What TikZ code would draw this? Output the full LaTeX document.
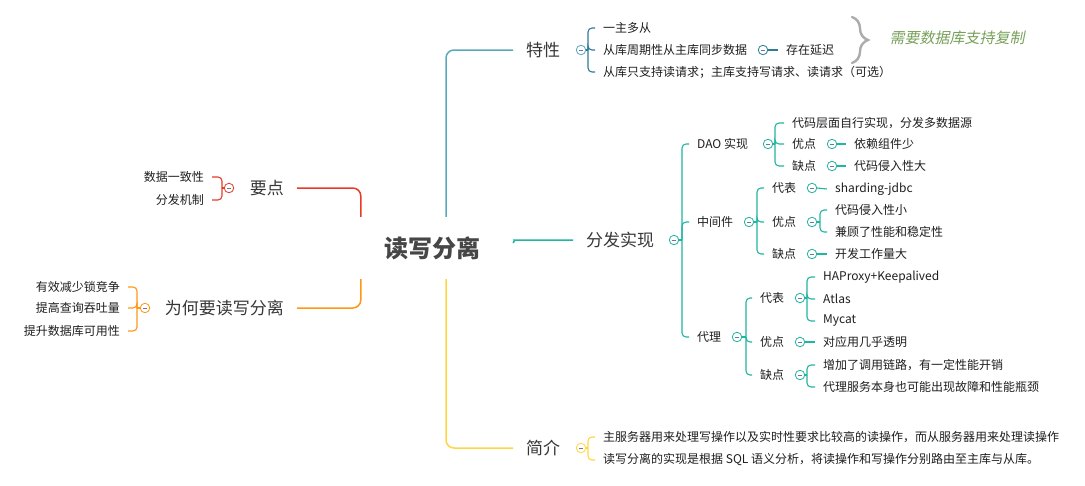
\documentclass[tikz,border=0pt]{standalone}
\usepackage{fontspec}
\setmainfont{Noto Sans CJK SC}
\newfontfamily\notefont[FakeSlant=0.2]{Noto Sans CJK SC}
\usepackage{tikz}
\usetikzlibrary{calc,decorations.pathreplacing}
\usepackage{xcolor}
\definecolor{rootc}{RGB}{70,70,70}
\definecolor{txt}{RGB}{30,30,30}
\definecolor{topc}{RGB}{55,55,55}
\definecolor{tezheng}{RGB}{90,168,190}
\definecolor{tezhengk}{RGB}{45,125,150}
\definecolor{fenfa}{RGB}{32,182,160}
\definecolor{jianjie}{RGB}{255,214,64}
\definecolor{yaodian}{RGB}{232,58,40}
\definecolor{weihe}{RGB}{255,150,20}
\definecolor{notec}{RGB}{118,160,88}
\definecolor{minus}{RGB}{110,120,150}

\begin{document}
\begin{tikzpicture}[x=1pt, y=-1pt,
  root/.style={font=\fontsize{24}{28}\selectfont\bfseries, text=rootc, minimum width=162pt, minimum height=62pt, inner sep=0pt},
  topic/.style={font=\fontsize{17}{20}\selectfont, text=topc, inner xsep=13pt, inner ysep=2pt},
  leaf/.style={font=\fontsize{12}{14}\selectfont, text=txt, anchor=west, inner xsep=8pt, inner ysep=1pt},
  leafl/.style={leaf, anchor=east},
  fold/.style={circle, draw=#1, fill=white, line width=0.8pt, minimum size=9.5pt, inner sep=0pt,
    path picture={\draw[minus, line width=0.6pt] ([xshift=-2.4pt]path picture bounding box.center) -- ([xshift=2.4pt]path picture bounding box.center);}},
  link/.style={draw=#1, line width=1.1pt, rounded corners=4pt},
  main/.style={draw=#1, line width=1.5pt, rounded corners=8pt},
  note/.style={font=\notefont\fontsize{15}{18}\selectfont, text=notec, anchor=west},
]
  \useasboundingbox (0,0) rectangle (1085,485);

  % centre
  \node[root] (root) at (432,248) {读写分离};

  % main topics
  \node[topic, anchor=west] (tx) at (513,50) {特性};
  \node[topic, anchor=west] (ff) at (573,240) {分发实现};
  \node[topic, anchor=west] (jj) at (513,448) {简介};
  \node[topic, anchor=east] (yd) at (297,188) {要点};
  \node[topic, anchor=east] (wh) at (297,308) {为何要读写分离};

  \draw[main=tezheng] ([xshift=14pt]root.north) |- (tx.west);
  \draw[main=jianjie] ([xshift=14pt]root.south) |- (jj.west);
  \draw[main=fenfa] ([yshift=5pt]root.east) .. controls ([yshift=8pt]root.east) and ([xshift=3pt,yshift=8pt]root.east) .. ([xshift=9pt,yshift=8pt]root.east) -- (ff.west);
  \draw[main=yaodian] ([xshift=10pt]root.north west) |- (yd.east);
  \draw[main=weihe] ([xshift=10pt]root.south west) |- (wh.east);

  % 特性
  \node[fold=tezheng] (tx0) at (581,50) {};
  \coordinate (txj) at (588,50);
  \node[leaf] (tx1) at (595,28) {一主多从};
  \node[leaf] (tx2) at (595,50) {从库周期性从主库同步数据};
  \node[leaf] (tx3) at (595,72) {从库只支持读请求；主库支持写请求、读请求（可选）};
  \node[fold=tezhengk] (tx20) at (763,50) {};
  \node[leaf] (tx21) at (778,50) {存在延迟};
  \draw[link=tezhengk] (tx0.east) -- (txj);
  \foreach \c in {tx1,tx2,tx3} \draw[link=tezhengk] (txj) |- (\c.west);
  \draw[link=tezhengk] (tx20.east) -- (tx21.west);

  \coordinate (bt) at (852,17);
  \coordinate (bb) at (852,63);
  \draw[decorate, decoration={brace, amplitude=16pt}, line width=2.4pt, gray!65, line cap=round] (bt) -- (bb);
  \node[note] (nt) at (886,38) {需要数据库支持复制};

  % 分发实现
  \node[fold=fenfa] (ff0) at (674,240) {};
  \coordinate (ffj) at (682,240);
  \node[leaf] (dao) at (689,144) {DAO 实现};
  \node[leaf] (mid) at (689,222) {中间件};
  \node[leaf] (prx) at (689,337) {代理};
  \draw[link=fenfa] (ff0.east) -- (ffj);
  \foreach \c in {dao,mid,prx} \draw[link=fenfa] (ffj) |- (\c.west);

  \node[fold=fenfa] (dao0) at (768,144) {};
  \coordinate (daoj) at (775,144);
  \node[leaf] (dao1) at (784,123) {代码层面自行实现，分发多数据源};
  \node[leaf] (dao2) at (784,144) {优点};
  \node[leaf] (dao3) at (784,166) {缺点};
  \draw[link=fenfa] (dao0.east) -- (daoj);
  \foreach \c in {dao1,dao2,dao3} \draw[link=fenfa] (daoj) |- (\c.west);
  \node[fold=fenfa] (dao20) at (832,144) {};
  \node[leaf] (dao21) at (846,144) {依赖组件少};
  \node[fold=fenfa] (dao30) at (832,166) {};
  \node[leaf] (dao31) at (846,166) {代码侵入性大};
  \draw[link=fenfa] (dao20.east) -- (dao21.west);
  \draw[link=fenfa] (dao30.east) -- (dao31.west);

  \node[fold=fenfa] (mid0) at (749,222) {};
  \coordinate (midj) at (757,222);
  \node[leaf] (mid1) at (764,188) {代表};
  \node[leaf] (mid2) at (764,222) {优点};
  \node[leaf] (mid3) at (764,254) {缺点};
  \draw[link=fenfa] (mid0.east) -- (midj);
  \foreach \c in {mid1,mid2,mid3} \draw[link=fenfa] (midj) |- (\c.west);
  \node[fold=fenfa] (mid10) at (812,188) {};
  \node[leaf] (mid11) at (827,189) {sharding-jdbc};
  \draw[link=fenfa] (mid10.east) -- (mid11.west);
  \node[fold=fenfa] (mid20) at (812,222) {};
  \coordinate (mid2j) at (820,222);
  \node[leaf] (mid21) at (827,210) {代码侵入性小};
  \node[leaf] (mid22) at (827,232) {兼顾了性能和稳定性};
  \draw[link=fenfa] (mid20.east) -- (mid2j);
  \foreach \c in {mid21,mid22} \draw[link=fenfa] (mid2j) |- (\c.west);
  \node[fold=fenfa] (mid30) at (812,254) {};
  \node[leaf] (mid31) at (827,254) {开发工作量大};
  \draw[link=fenfa] (mid30.east) -- (mid31.west);

  \node[fold=fenfa] (prx0) at (737,337) {};
  \coordinate (prxj) at (746,337);
  \node[leaf] (prx1) at (752,298) {代表};
  \node[leaf] (prx2) at (752,342) {优点};
  \node[leaf] (prx3) at (752,375) {缺点};
  \draw[link=fenfa] (prx0.east) -- (prxj);
  \foreach \c in {prx1,prx2,prx3} \draw[link=fenfa] (prxj) |- (\c.west);
  \node[fold=fenfa] (prx10) at (800,298) {};
  \coordinate (prx1j) at (807,298);
  \node[leaf] (prx11) at (815,277) {HAProxy+Keepalived};
  \node[leaf] (prx12) at (815,299) {Atlas};
  \node[leaf] (prx13) at (815,321) {Mycat};
  \draw[link=fenfa] (prx10.east) -- (prx1j);
  \foreach \c in {prx11,prx12,prx13} \draw[link=fenfa] (prx1j) |- (\c.west);
  \node[fold=fenfa] (prx20) at (800,342) {};
  \node[leaf] (prx21) at (815,342) {对应用几乎透明};
  \draw[link=fenfa] (prx20.east) -- (prx21.west);
  \node[fold=fenfa] (prx30) at (800,375) {};
  \coordinate (prx3j) at (807,375);
  \node[leaf] (prx31) at (815,365) {增加了调用链路，有一定性能开销};
  \node[leaf] (prx32) at (815,387) {代理服务本身也可能出现故障和性能瓶颈};
  \draw[link=fenfa] (prx30.east) -- (prx3j);
  \foreach \c in {prx31,prx32} \draw[link=fenfa] (prx3j) |- (\c.west);

  % 简介
  \node[fold=jianjie] (jj0) at (581,448) {};
  \coordinate (jjj) at (588,448);
  \node[leaf] (jj1) at (595,437) {主服务器用来处理写操作以及实时性要求比较高的读操作，而从服务器用来处理读操作};
  \node[leaf] (jj2) at (595,460) {读写分离的实现是根据 SQL 语义分析，将读操作和写操作分别路由至主库与从库。};
  \draw[link=jianjie] (jj0.east) -- (jjj);
  \foreach \c in {jj1,jj2} \draw[link=jianjie] (jjj) |- (\c.west);

  % 要点
  \node[fold=yaodian] (yd0) at (229,188) {};
  \coordinate (ydj) at (222,188);
  \node[leafl] (yd1) at (212,177) {数据一致性};
  \node[leafl] (yd2) at (212,200) {分发机制};
  \draw[link=yaodian] (yd0.west) -- (ydj);
  \foreach \c in {yd1,yd2} \draw[link=yaodian] (ydj) |- (\c.east);

  % 为何要读写分离
  \node[fold=weihe] (wh0) at (145,308) {};
  \coordinate (whj) at (137,308);
  \node[leafl] (wh1) at (128,287) {有效减少锁竞争};
  \node[leafl] (wh2) at (128,308) {提高查询吞吐量};
  \node[leafl] (wh3) at (128,331) {提升数据库可用性};
  \draw[link=weihe] (wh0.west) -- (whj);
  \foreach \c in {wh1,wh2,wh3} \draw[link=weihe] (whj) |- (\c.east);
\end{tikzpicture}
\end{document}
